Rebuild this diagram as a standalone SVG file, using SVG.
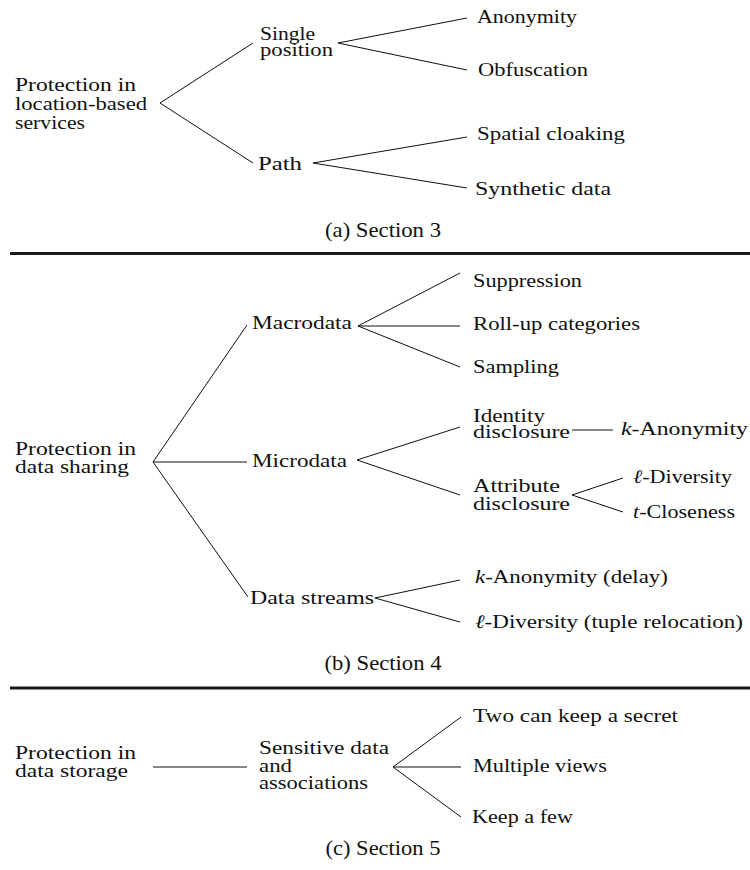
<svg xmlns="http://www.w3.org/2000/svg" width="750" height="870" viewBox="0 0 750 870">
<style>
  text { fill: #111; }
  .n { font-family: "Liberation Serif", "Times New Roman", serif; font-size: 19px; }
  .cap { font-family: "Liberation Serif", "Times New Roman", serif; font-size: 22px; text-anchor: middle; }
  .it { font-style: italic; }
  .c line { stroke: #111; stroke-width: 1; fill: none; }
  .rule { stroke: #1a1a1a; stroke-width: 3.2; }
</style>
<rect width="750" height="870" fill="#fff"/>

<!-- Section 3 -->
<g id="connectors-a" class="c">
  <line x1="160" y1="103" x2="253" y2="43"/>
  <line x1="160" y1="103" x2="253" y2="163"/>
  <line x1="338" y1="43" x2="467" y2="18"/>
  <line x1="338" y1="43" x2="467" y2="70"/>
  <line x1="313" y1="163" x2="467" y2="137"/>
  <line x1="313" y1="163" x2="467" y2="188"/>
</g>
<g id="lbs">
  <text class="n"><tspan x="15" y="91" textLength="121" lengthAdjust="spacingAndGlyphs">Protection in</tspan><tspan x="15" y="110" textLength="132" lengthAdjust="spacingAndGlyphs">location-based</tspan><tspan x="15" y="129" textLength="70" lengthAdjust="spacingAndGlyphs">services</tspan></text>
</g>
<g id="single-position">
  <text class="n"><tspan x="260" y="40" textLength="55" lengthAdjust="spacingAndGlyphs">Single</tspan><tspan x="260" y="56" textLength="73" lengthAdjust="spacingAndGlyphs">position</tspan></text>
</g>
<g id="path"><text class="n" x="258" y="170" textLength="44" lengthAdjust="spacingAndGlyphs">Path</text></g>
<g id="anonymity"><text class="n" x="477" y="23" textLength="100" lengthAdjust="spacingAndGlyphs">Anonymity</text></g>
<g id="obfuscation"><text class="n" x="478" y="76" textLength="110" lengthAdjust="spacingAndGlyphs">Obfuscation</text></g>
<g id="spatial-cloaking"><text class="n" x="477" y="140" textLength="148" lengthAdjust="spacingAndGlyphs">Spatial cloaking</text></g>
<g id="synthetic-data"><text class="n" x="475" y="195" textLength="136" lengthAdjust="spacingAndGlyphs">Synthetic data</text></g>
<text class="cap" x="383" y="237" textLength="116" lengthAdjust="spacingAndGlyphs">(a) Section 3</text>
<line class="rule" x1="10" y1="253.5" x2="750" y2="253.5"/>

<!-- Section 4 -->
<g id="connectors-b" class="c">
  <line x1="153" y1="462" x2="247" y2="325"/>
  <line x1="153" y1="462" x2="247" y2="462"/>
  <line x1="153" y1="462" x2="248" y2="597"/>
  <line x1="358" y1="326" x2="460" y2="273"/>
  <line x1="358" y1="326" x2="460" y2="326"/>
  <line x1="358" y1="326" x2="460" y2="367"/>
  <line x1="357" y1="460" x2="460" y2="427"/>
  <line x1="357" y1="460" x2="460" y2="495"/>
  <line x1="572" y1="430" x2="613" y2="430"/>
  <line x1="572" y1="495" x2="623" y2="478"/>
  <line x1="572" y1="495" x2="623" y2="512"/>
  <line x1="375" y1="598" x2="460" y2="580"/>
  <line x1="375" y1="598" x2="460" y2="622"/>
</g>
<g id="data-sharing">
  <text class="n"><tspan x="15" y="455" textLength="121" lengthAdjust="spacingAndGlyphs">Protection in</tspan><tspan x="15" y="473" textLength="114" lengthAdjust="spacingAndGlyphs">data sharing</tspan></text>
</g>
<g id="macrodata"><text class="n" x="252" y="329" textLength="100" lengthAdjust="spacingAndGlyphs">Macrodata</text></g>
<g id="microdata"><text class="n" x="252" y="467" textLength="95" lengthAdjust="spacingAndGlyphs">Microdata</text></g>
<g id="data-streams"><text class="n" x="250" y="604" textLength="124" lengthAdjust="spacingAndGlyphs">Data streams</text></g>
<g id="suppression"><text class="n" x="473" y="287" textLength="109" lengthAdjust="spacingAndGlyphs">Suppression</text></g>
<g id="roll-up"><text class="n" x="473" y="330" textLength="167" lengthAdjust="spacingAndGlyphs">Roll-up categories</text></g>
<g id="sampling"><text class="n" x="473" y="373" textLength="86" lengthAdjust="spacingAndGlyphs">Sampling</text></g>
<g id="identity-disclosure">
  <text class="n"><tspan x="473" y="422" textLength="72" lengthAdjust="spacingAndGlyphs">Identity</tspan><tspan x="473" y="438" textLength="97" lengthAdjust="spacingAndGlyphs">disclosure</tspan></text>
</g>
<g id="k-anonymity"><text class="n" x="621" y="435" textLength="127" lengthAdjust="spacingAndGlyphs"><tspan class="it">k</tspan>-Anonymity</text></g>
<g id="attribute-disclosure">
  <text class="n"><tspan x="473" y="492" textLength="87" lengthAdjust="spacingAndGlyphs">Attribute</tspan><tspan x="473" y="510" textLength="97" lengthAdjust="spacingAndGlyphs">disclosure</tspan></text>
</g>
<g id="l-diversity"><text class="n" x="633" y="483" textLength="99" lengthAdjust="spacingAndGlyphs"><tspan class="it">ℓ</tspan>-Diversity</text></g>
<g id="t-closeness"><text class="n" x="633" y="518" textLength="102" lengthAdjust="spacingAndGlyphs"><tspan class="it">t</tspan>-Closeness</text></g>
<g id="k-anonymity-delay"><text class="n" x="475" y="583" textLength="193" lengthAdjust="spacingAndGlyphs"><tspan class="it">k</tspan>-Anonymity (delay)</text></g>
<g id="l-diversity-tuple"><text class="n" x="475" y="628" textLength="268" lengthAdjust="spacingAndGlyphs"><tspan class="it">ℓ</tspan>-Diversity (tuple relocation)</text></g>
<text class="cap" x="383" y="670" textLength="117" lengthAdjust="spacingAndGlyphs">(b) Section 4</text>
<line class="rule" x1="10" y1="688" x2="750" y2="688"/>

<!-- Section 5 -->
<g id="connectors-c" class="c">
  <line x1="153" y1="767" x2="247" y2="767"/>
  <line x1="393" y1="767" x2="461" y2="717"/>
  <line x1="393" y1="767" x2="461" y2="767"/>
  <line x1="393" y1="767" x2="461" y2="817"/>
</g>
<g id="data-storage">
  <text class="n"><tspan x="15" y="759" textLength="121" lengthAdjust="spacingAndGlyphs">Protection in</tspan><tspan x="15" y="777" textLength="113" lengthAdjust="spacingAndGlyphs">data storage</tspan></text>
</g>
<g id="sensitive-data">
  <text class="n"><tspan x="259" y="754" textLength="130" lengthAdjust="spacingAndGlyphs">Sensitive data</tspan><tspan x="259" y="772" textLength="33" lengthAdjust="spacingAndGlyphs">and</tspan><tspan x="259" y="789" textLength="109" lengthAdjust="spacingAndGlyphs">associations</tspan></text>
</g>
<g id="two-can-keep"><text class="n" x="473" y="722" textLength="205" lengthAdjust="spacingAndGlyphs">Two can keep a secret</text></g>
<g id="multiple-views"><text class="n" x="473" y="772" textLength="134" lengthAdjust="spacingAndGlyphs">Multiple views</text></g>
<g id="keep-a-few"><text class="n" x="472" y="823" textLength="101" lengthAdjust="spacingAndGlyphs">Keep a few</text></g>
<text class="cap" x="383" y="855" textLength="115" lengthAdjust="spacingAndGlyphs">(c) Section 5</text>
</svg>
